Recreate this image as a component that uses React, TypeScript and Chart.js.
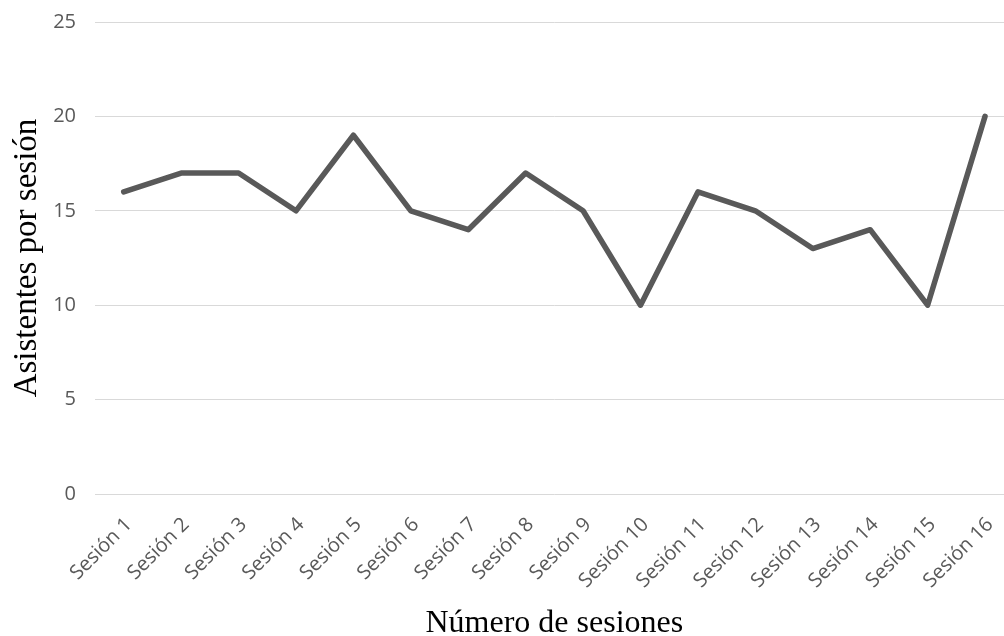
import React, { useEffect, useRef } from "react";
import { Chart, registerables } from "chart.js";

Chart.register(...registerables);

const categories = [
  "Sesión 1", "Sesión 2", "Sesión 3", "Sesión 4", "Sesión 5", "Sesión 6", "Sesión 7", "Sesión 8",
  "Sesión 9", "Sesión 10", "Sesión 11", "Sesión 12", "Sesión 13", "Sesión 14", "Sesión 15", "Sesión 16",
];
const asistentes = [16, 17, 17, 15, 19, 15, 14, 17, 15, 10, 16, 15, 13, 14, 10, 20];
const yTicks = [0, 5, 10, 15, 20, 25];
const yTitle = "Asistentes por sesión";
const xTitle = "Número de sesiones";

export default function App() {
  const ref = useRef<HTMLCanvasElement | null>(null);
  useEffect(() => {
    if (!ref.current) return;
    const chart = new Chart(ref.current, {
      type: "line",
      data: {
        labels: categories,
        datasets: [
          {
            data: asistentes,
            borderColor: "#595959",
            borderWidth: 5.5,
            pointRadius: 0,
            tension: 0,
            borderCapStyle: "round",
            borderJoinStyle: "round",
            fill: false,
          },
        ],
      },
      options: {
        animation: false,
        responsive: false,
        maintainAspectRatio: false,
        layout: { padding: { top: 0, right: 0, bottom: 0, left: 0 } },
        plugins: { legend: { display: false }, tooltip: { enabled: false } },
        scales: {
          x: {
            offset: true,
            grid: { display: false, drawTicks: false },
            border: { display: false },
            ticks: {
              autoSkip: false,
              minRotation: 45,
              maxRotation: 45,
              padding: 19,
              labelOffset: 5,
              color: "#595959",
              font: { family: "'Open Sans'", size: 20 },
            },
            title: {
              display: true,
              text: xTitle,
              color: "#000000",
              font: { family: "'Liberation Serif'", size: 32, lineHeight: 0.75 },
              padding: { top: 0, bottom: 0 },
            },
            afterFit: (s: any) => {
              s.height = 142;
            },
          },
          y: {
            min: 0,
            max: 25,
            afterBuildTicks: (s: any) => {
              s.ticks = yTicks.map((v) => ({ value: v }));
            },
            grid: {
              color: "#d9d9d9",
              lineWidth: 1,
              drawTicks: true,
              tickLength: 9,
              tickColor: "rgba(0,0,0,0)",
            },
            border: { display: false },
            ticks: {
              padding: 10,
              color: "#595959",
              font: { family: "'Open Sans'", size: 20 },
            },
            title: {
              display: true,
              text: yTitle,
              color: "#000000",
              font: { family: "'Liberation Serif'", size: 33, lineHeight: 1 },
              padding: { top: 11, bottom: 0 },
            },
            afterFit: (s: any) => {
              s.width = 95;
            },
          },
        },
      },
    });
    return () => chart.destroy();
  }, []);
  return (
    <div
      style={{
        position: "fixed",
        left: 0,
        top: 0,
        width: 1004,
        height: 636,
        overflow: "hidden",
        background: "#ffffff",
      }}
    >
      <canvas ref={ref} width={1021} height={636} style={{ width: 1021, height: 636, display: "block" }} />
    </div>
  );
}
